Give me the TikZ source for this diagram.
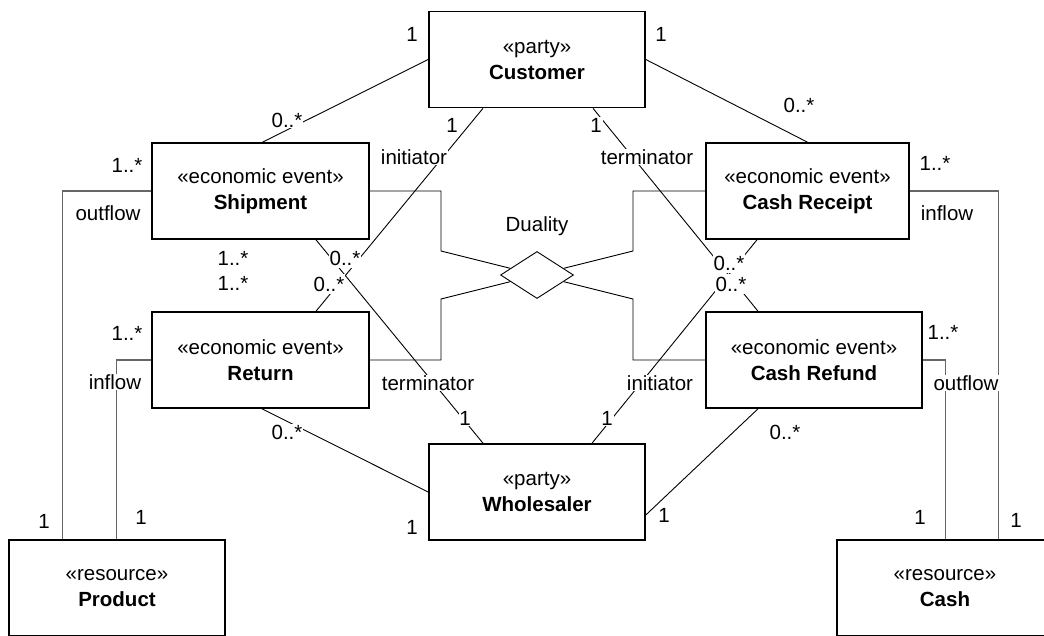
\documentclass[tikz,border=0pt]{standalone}
\usepackage{fontspec}
\setmainfont{Liberation Sans}
\usetikzlibrary{shapes.geometric}
\begin{document}
\begin{tikzpicture}[x=1pt,y=-1pt,
  every node/.style={font=\fontsize{20.5}{26}\selectfont},
  box/.style={draw, line width=1.6pt, minimum width=216pt, minimum height=96pt, align=center, inner sep=0pt},
  lbl/.style={fill=white, inner sep=0.8pt},
  tall/.style={inner ysep=3pt},
  assoc/.style={line width=0.9pt},
  flow/.style={line width=1.1pt, draw=black!60}]
\clip (0,0) rectangle (1044,635);
\fill[white] (0,0) rectangle (1044,635);
% classes
\node[box] (cust) at (537,59.5) {«party»\\\textbf{Customer}};
\node[box, minimum width=217pt] (ship) at (260.5,191) {«economic event»\\\textbf{Shipment}};
\node[box, minimum width=217pt] (ret) at (260.5,360) {«economic event»\\\textbf{Return}};
\node[box, minimum width=203pt] (crec) at (807.5,191) {«economic event»\\\textbf{Cash Receipt}};
\node[box] (cref) at (814,360) {«economic event»\\\textbf{Cash Refund}};
\node[box] (whol) at (537,492) {«party»\\\textbf{Wholesaler}};
\node[box] (prod) at (117,588) {«resource»\\\textbf{Product}};
\node[box] (cash) at (945,588) {«resource»\\\textbf{Cash}};
\node[draw, diamond, line width=0.9pt, minimum width=73pt, minimum height=47pt, inner sep=0pt, shape aspect=1.55] (dual) at (537,275) {};
% duality connectors
\draw[assoc] (ship.east) -- (441,191) -- (441,251) -- (dual);
\draw[assoc] (ret.east) -- (441,360) -- (441,299) -- (dual);
\draw[assoc] (crec.west) -- (633,191) -- (633,251) -- (dual);
\draw[assoc] (cref.west) -- (633,360) -- (633,299) -- (dual);
% flows
\draw[flow] (ship.west) -| ([xshift=54pt]prod.north west);
\draw[flow] (ret.west) -| ([xshift=108pt]prod.north west);
\draw[flow] (crec.east) -| ([xshift=162pt]cash.north west);
\draw[flow] (cref.east) -| ([xshift=109pt]cash.north west);
% associations
\draw[assoc] (cust.west) -- ([xshift=2pt]ship.north);
\draw[assoc] (cust.east) -- (crec.north);
\draw[assoc] ([xshift=-54pt]cust.south) -- ([xshift=55.5pt]ret.north);
\draw[assoc] ([xshift=56pt]cust.south) -- ([xshift=-56pt]cref.north);
\draw[assoc] ([xshift=55.5pt]ship.south) -- ([xshift=-54pt]whol.north);
\draw[assoc] ([xshift=55pt]whol.north) -- ([xshift=-50.5pt]crec.south);
\draw[assoc] ([xshift=1.5pt]ret.south) -- (whol.west);
\draw[assoc] ([yshift=-23pt]whol.east) -- ([xshift=-56pt]cref.south);
% labels
\node[lbl] (l1) at (412,34) {1};
\node[lbl] (l2) at (661,34) {1};
\node[lbl] (l3) at (287,120) {0..*};
\node[lbl] (l4) at (799,105) {0..*};
\node[lbl] (l5) at (452,125) {1};
\node[lbl] (l6) at (414,157) {initiator};
\node[lbl] (l7) at (596,125) {1};
\node[lbl] (l8) at (647,157) {terminator};
\node[lbl] (l9) at (127,165) {1..*};
\node[lbl] (l10) at (108,213) {outflow};
\node[lbl] (l11) at (935,163) {1..*};
\node[lbl] (l12) at (947,213) {inflow};
\node[lbl, tall] (l13) at (345,258) {0..*};
\node[lbl] (l14) at (233,258) {1..*};
\node[lbl] (l15) at (233,283) {1..*};
\node[lbl, tall] (l16) at (329,284) {0..*};
\node[lbl] (l17) at (537,226) {Duality};
\node[lbl, tall] (l18) at (729,263) {0..*};
\node[lbl, tall] (l19) at (731,284) {0..*};
\node[lbl] (l20) at (127,333) {1..*};
\node[lbl] (l21) at (115,382) {inflow};
\node[lbl] (l22) at (943,332) {1..*};
\node[lbl] (l23) at (966,383) {outflow};
\node[lbl] (l24) at (428,383) {terminator};
\node[lbl] (l25) at (660,383) {initiator};
\node[lbl] (l26) at (465,418) {1};
\node[lbl] (l27) at (607,418) {1};
\node[lbl] (l28) at (287,432) {0..*};
\node[lbl] (l29) at (785,432) {0..*};
\node[lbl] (l30) at (412,527) {1};
\node[lbl] (l31) at (664,515) {1};
\node[lbl] (l32) at (44,521) {1};
\node[lbl] (l33) at (141,517) {1};
\node[lbl] (l34) at (920,517) {1};
\node[lbl] (l35) at (1016,520) {1};
\end{tikzpicture}
\end{document}
